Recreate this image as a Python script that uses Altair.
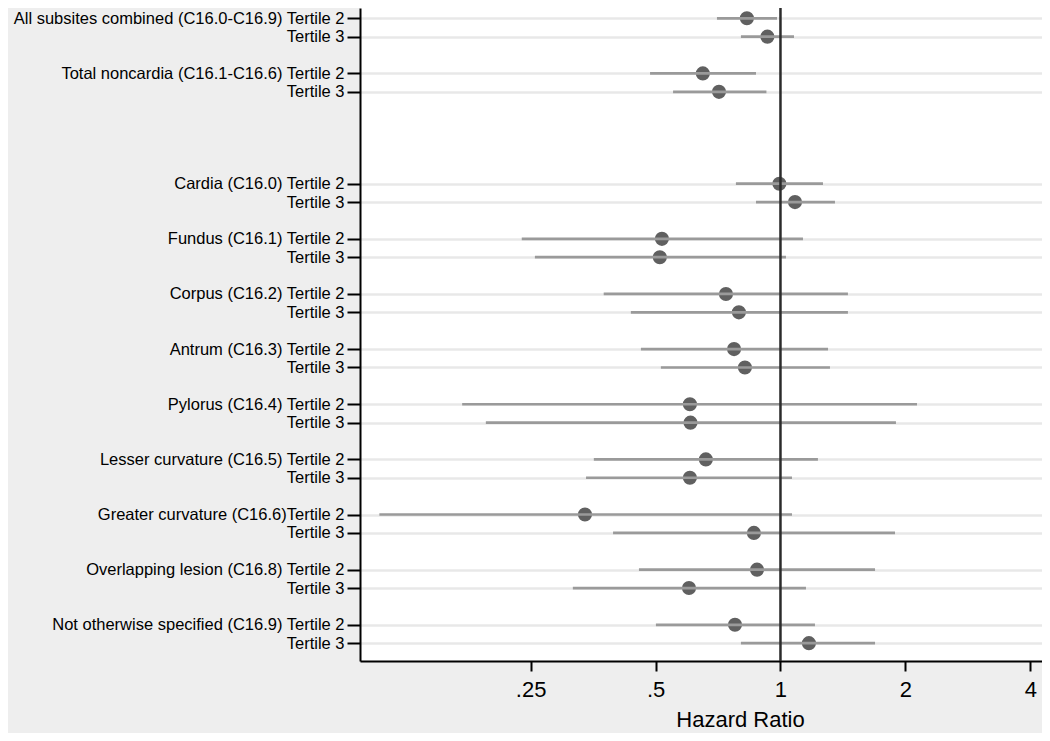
import json
import altair as alt
import pandas as pd

# Row positions (0 = top); gaps separate the groups
rows = [0, 1, 3, 4, 9, 10, 12, 13, 15, 16, 18, 19, 21, 22, 24, 25, 27, 28, 30, 31, 33, 34]
labels = [
    "All subsites combined (C16.0-C16.9) Tertile 2", "Tertile 3",
    "Total noncardia (C16.1-C16.6) Tertile 2", "Tertile 3",
    "Cardia (C16.0) Tertile 2", "Tertile 3",
    "Fundus (C16.1) Tertile 2", "Tertile 3",
    "Corpus (C16.2) Tertile 2", "Tertile 3",
    "Antrum (C16.3) Tertile 2", "Tertile 3",
    "Pylorus (C16.4) Tertile 2", "Tertile 3",
    "Lesser curvature (C16.5) Tertile 2", "Tertile 3",
    "Greater curvature (C16.6)Tertile 2", "Tertile 3",
    "Overlapping lesion (C16.8) Tertile 2", "Tertile 3",
    "Not otherwise specified (C16.9) Tertile 2", "Tertile 3",
]
hr = [0.830, 0.930, 0.650, 0.711, 0.994, 1.084, 0.518, 0.512, 0.739, 0.794, 0.773,
      0.821, 0.605, 0.607, 0.661, 0.605, 0.338, 0.863, 0.878, 0.602, 0.777, 1.171]
lo = [0.703, 0.803, 0.485, 0.551, 0.781, 0.873, 0.238, 0.256, 0.375, 0.436, 0.461,
      0.515, 0.171, 0.195, 0.355, 0.340, 0.108, 0.395, 0.456, 0.316, 0.501, 0.803]
hi = [0.981, 1.078, 0.873, 0.925, 1.266, 1.353, 1.133, 1.031, 1.454, 1.454, 1.302,
      1.316, 2.133, 1.898, 1.231, 1.066, 1.066, 1.888, 1.690, 1.152, 1.211, 1.690]
x_ticks = [0.25, 0.5, 1, 2, 4]
reference_value = [1]

df = pd.DataFrame({"row": rows, "label": labels, "hr": hr, "lo": lo, "hi": hi})
ref_df = pd.DataFrame({"ref": reference_value})

label_arr = [""] * 35
for r, lab in zip(rows, labels):
    label_arr[r] = lab
label_expr = json.dumps(label_arr) + "[datum.value]"

x_scale = alt.Scale(type="log", domain=[0.0970, 4.268], nice=False, clamp=False)
y_scale = alt.Scale(domain=[-0.56, 34.97], reverse=True, nice=False, zero=False)

y_axis = alt.Axis(
    values=rows, labelExpr=label_expr, title=None,
    grid=True, gridColor="#e8e8e8", gridWidth=2.5,
    domainColor="black", domainWidth=2,
    tickColor="black", tickWidth=2, tickSize=13,
    labelPadding=3, labelFontSize=16.5, labelColor="black",
    labelLimit=0, labelAlign="right", labelBaseline="middle",
)
x_axis = alt.Axis(
    values=x_ticks, format="~g",
    labelExpr="replace(datum.label, '0.', '.')",
    grid=False, domainColor="black", domainWidth=2,
    tickColor="black", tickWidth=2, tickSize=10,
    labelPadding=8, labelFontSize=22, labelColor="black",
    title="Hazard Ratio", titleFontSize=22, titleFontWeight="normal",
    titleColor="black", titleX=380, titleY=65, titleAlign="center",
    titleBaseline="alphabetic",
)

points = alt.Chart(df).mark_circle(size=200, color="#606060", opacity=1).encode(
    x=alt.X("hr:Q", scale=x_scale, axis=x_axis),
    y=alt.Y("row:Q", scale=y_scale, axis=y_axis),
)
ci = alt.Chart(df).mark_rule(color="#9a9a9a", strokeWidth=2.7).encode(
    x=alt.X("lo:Q", scale=x_scale, axis=x_axis),
    x2="hi:Q",
    y=alt.Y("row:Q", scale=y_scale, axis=y_axis),
)
ref = alt.Chart(ref_df).mark_rule(color="#2b2b2b", strokeWidth=2.5).encode(
    x=alt.X("ref:Q", scale=x_scale, axis=x_axis),
)

chart = alt.layer(points, ci, ref).properties(
    width=682, height=653,
    autosize=alt.AutoSizeParams(type="none"),
    padding={"left": 352, "top": 0, "right": 0, "bottom": 72},
    background="#eeeeee",
).configure(font="Liberation Sans").configure_view(fill="white", strokeWidth=0)

chart.save("out.html", embed_options={"renderer": "svg", "actions": False})
